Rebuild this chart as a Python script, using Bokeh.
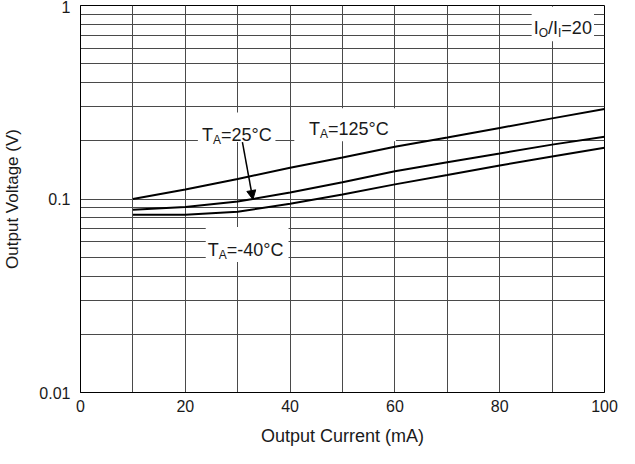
from bokeh.plotting import figure
from bokeh.models import Range1d, FixedTicker, Label, BoxAnnotation, Arrow, NormalHead
from bokeh.embed import file_html
from bokeh.resources import INLINE

# ---- data ----
current_ma = [10, 20, 30, 40, 50, 60, 70, 80, 90, 100]
v_125c = [0.100, 0.112, 0.127, 0.145, 0.164, 0.186, 0.208, 0.233, 0.261, 0.292]
v_25c = [0.088, 0.091, 0.097, 0.108, 0.122, 0.139, 0.155, 0.172, 0.191, 0.210]
v_m40c = [0.083, 0.083, 0.086, 0.0945, 0.1055, 0.119, 0.133, 0.149, 0.166, 0.184]

x_ticks = [0, 20, 40, 60, 80, 100]
x_minor = [10, 30, 50, 70, 90]
y_ticks = [0.01, 0.1, 1]
y_tick_labels = ["0.01", "0.1", "1"]
y_minor = [0.02, 0.03, 0.04, 0.05, 0.06, 0.07, 0.08, 0.09,
           0.2, 0.3, 0.4, 0.5, 0.6, 0.7, 0.8, 0.9]

FONT = "Liberation Sans"
GRID = "#4a4a4a"
TXT = "#1a1a1a"

p = figure(width=619, height=448, y_axis_type="log",
           x_range=Range1d(0, 100), y_range=Range1d(0.01, 1),
           output_backend="svg", toolbar_location=None,
           min_border_left=77, min_border_right=15,
           min_border_top=5, min_border_bottom=56)
p.background_fill_color = "white"
p.border_fill_color = "white"
p.outline_line_color = "black"
p.outline_line_width = 1

p.xaxis.ticker = FixedTicker(ticks=x_ticks, minor_ticks=x_minor)
p.yaxis.ticker = FixedTicker(ticks=y_ticks, minor_ticks=y_minor)
p.yaxis.major_label_overrides = {t: s for t, s in zip(y_ticks, y_tick_labels)}

for ax in (p.xaxis, p.yaxis):
    ax.major_tick_out = 0
    ax.major_tick_in = 0
    ax.minor_tick_out = 0
    ax.minor_tick_in = 0
    ax.axis_line_color = "black"
    ax.major_label_text_font = FONT
    ax.major_label_text_font_size = "16px"
    ax.major_label_text_color = TXT
    ax.axis_label_text_font = FONT
    ax.axis_label_text_font_style = "normal"
    ax.axis_label_text_color = TXT

p.xaxis.axis_label = "Output Current (mA)"
p.yaxis.axis_label = "Output Voltage (V)"
p.xaxis.axis_label_text_font_size = "18px"
p.yaxis.axis_label_text_font_size = "17px"
p.xaxis.major_label_standoff = 7
p.yaxis.major_label_standoff = 10
p.xaxis.axis_label_standoff = 11
p.yaxis.axis_label_standoff = 14

for g in (p.xgrid, p.ygrid):
    g.grid_line_color = GRID
    g.grid_line_width = 1
    g.minor_grid_line_color = GRID
    g.minor_grid_line_width = 1

# curves
for vals in (v_125c, v_25c, v_m40c):
    p.line(current_ma, vals, line_color="black", line_width=2)

# white boxes behind labels (break the grid lines)
boxes = [
    (22.4, 37.2, 0.197, 0.280),   # T_A=25C
    (40.8, 60.2, 0.199, 0.294),   # T_A=125C
    (23.9, 39.7, 0.0473, 0.0717), # T_A=-40C
    (86.1, 98.0, 0.654, 0.985),   # Io/Ii=20
]
for l, r, b, t in boxes:
    p.add_layout(BoxAnnotation(left=l, right=r, bottom=b, top=t,
                               fill_color="white", fill_alpha=1,
                               line_alpha=0, level="underlay"))


def sub_label(x, y, parts):
    for text, size, dx, dy in parts:
        p.add_layout(Label(x=x, y=y, text=text, x_offset=dx, y_offset=dy,
                           text_font=FONT, text_font_size=f"{size}px",
                           text_color=TXT, text_align="left",
                           text_baseline="alphabetic"))


sub_label(23.2, 0.215, [("T", 18, 0, 0), ("A", 12, 11.0, -5), ("=25°C", 18, 19.0, 0)])
sub_label(43.6, 0.231, [("T", 18, 0, 0), ("A", 12, 11.0, -5), ("=125°C", 18, 19.0, 0)])
sub_label(24.3, 0.0545, [("T", 18, 0, 0), ("A", 12, 11.0, -5), ("=-40°C", 18, 19.0, 0)])
sub_label(86.5, 0.765, [("I", 18, 0, 0), ("O", 12, 5.0, -5), ("/I", 18, 14.3, 0),
                        ("I", 12, 24.3, -5), ("=20", 18, 27.6, 0)])

# arrow pointing to the 25C curve
p.add_layout(Arrow(x_start=30.9, y_start=0.197, x_end=32.9, y_end=0.0994,
                   line_color="black", line_width=1.5,
                   end=NormalHead(size=9, fill_color="black", line_color="black")))

open("out.html", "w").write(file_html(p, INLINE))
